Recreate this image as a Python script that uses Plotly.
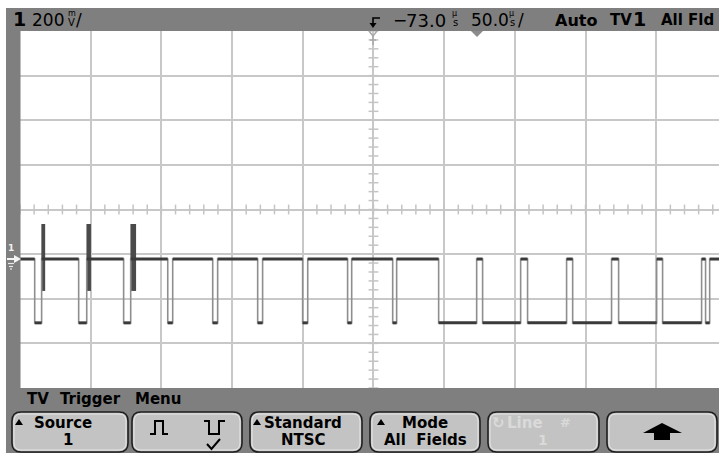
import plotly.graph_objects as go

time_per_div_us = 50.0
delay_us = -73.0
volts_per_div = 0.2
x_range_us = [-323.0, 171.4]          # visible part of the 10-div window
y_range_v = [-0.578, 1.022]           # 8 divisions, ground marker 1.1 div below centre

blank_level_v = 0.0
sync_level_v = -0.286

sync_start_us = [-312.6, -281.5, -249.7, -218.5, -186.7, -154.9, -123.1, -91.3,
                 -59.4, -26.9, 4.2, 36.0, 67.9, 100.4, 131.5, 161.9]
sync_end_us = [-307.7, -275.8, -244.7, -215.0, -183.2, -151.4, -119.5, -88.4,
               -56.6, 0.0, 31.1, 63.6, 95.4, 127.3, 159.1, 164.8]

burst_start_us = [-307.9, -276.0, -244.9]
burst_end_us = [-305.2, -272.8, -240.9]
burst_top_v = 0.157
burst_bottom_v = -0.143

header_channel = "1"
header_scale = "200"
header_delay = "73.0"
header_timebase = "50.0"
menu_title = ["TV", "Trigger", "Menu"]

# ---------------- geometry helpers (screen pixels) ----------------
FW, FH = 719, 453
PLOT_L, PLOT_T, PLOT_R, PLOT_B = 20, 31, 719, 388
ML, MT = PLOT_L, PLOT_T
MR = FW - PLOT_R
MB = FH - PLOT_B
PW = PLOT_R - PLOT_L
PH = PLOT_B - PLOT_T


def px(x):
    return (x - PLOT_L) / PW


def py(y):
    return (PLOT_B - y) / PH


def P(x, y):
    return f"{px(x):.5f},{py(y):.5f}"


def poly(points, close=True):
    s = "M " + " L ".join(P(x, y) for x, y in points)
    return s + (" Z" if close else "")


def rrect(x0, y0, x1, y1, r):
    return (f"M {P(x0 + r, y0)} L {P(x1 - r, y0)} Q {P(x1, y0)} {P(x1, y0 + r)} "
            f"L {P(x1, y1 - r)} Q {P(x1, y1)} {P(x1 - r, y1)} "
            f"L {P(x0 + r, y1)} Q {P(x0, y1)} {P(x0, y1 - r)} "
            f"L {P(x0, y0 + r)} Q {P(x0, y0)} {P(x0 + r, y0)} Z")


shapes = []
annotations = []


def rect(x0, y0, x1, y1, color):
    shapes.append(dict(type="rect", xref="paper", yref="paper", x0=px(x0), x1=px(x1),
                       y0=py(y1), y1=py(y0), fillcolor=color, line=dict(width=0),
                       layer="above"))


def path(d, fill=None, line_color=None, width=0):
    s = dict(type="path", xref="paper", yref="paper", path=d, layer="above")
    if fill:
        s["fillcolor"] = fill
    s["line"] = dict(color=line_color or "rgba(0,0,0,0)", width=width)
    shapes.append(s)


def text(x, y, t, size, color="#000000", bold=False, anchor="left",
         family="DejaVu Sans"):
    annotations.append(dict(xref="paper", yref="paper", x=px(x), y=py(y),
                            text=f"<b>{t}</b>" if bold else t, showarrow=False,
                            xanchor=anchor, yanchor="middle", borderpad=0,
                            font=dict(size=size, color=color, family=family)))


def tri_up(x, y, w=8, h=6):
    path(poly([(x, y + h / 2), (x + w, y + h / 2), (x + w / 2, y - h / 2)]), fill="#000")


# ---------------- waveform built from the edge lists ----------------
wx, wy = [x_range_us[0]], [blank_level_v]
for s, e in zip(sync_start_us, sync_end_us):
    wx += [s, s, e, e]
    wy += [blank_level_v, sync_level_v, sync_level_v, blank_level_v]
wx.append(x_range_us[1])
wy.append(blank_level_v)

hx, hy = [], []
prev = x_range_us[0]
for s, e in zip(sync_start_us, sync_end_us):
    hx += [prev, s, None, s, e, None]
    hy += [blank_level_v, blank_level_v, None, sync_level_v, sync_level_v, None]
    prev = e
hx += [prev, x_range_us[1]]
hy += [blank_level_v, blank_level_v]

centre_t = delay_us
centre_v = (y_range_v[0] + y_range_v[1]) / 2
minor_t = [x_range_us[0] + time_per_div_us / 5 * k for k in range(60)]
minor_t = [t for t in minor_t if t <= x_range_us[1]]
minor_v = [y_range_v[0] + volts_per_div / 5 * k for k in range(41)]

fig = go.Figure()
fig.add_trace(go.Scatter(x=minor_t, y=[centre_v] * len(minor_t), mode="markers",
                         marker=dict(symbol="line-ns", size=7,
                                     line=dict(color="#c4c4c4", width=1.5)),
                         hoverinfo="skip", cliponaxis=True))
fig.add_trace(go.Scatter(x=[centre_t] * len(minor_v), y=minor_v, mode="markers",
                         marker=dict(symbol="line-ew", size=7,
                                     line=dict(color="#c4c4c4", width=1.5)),
                         hoverinfo="skip", cliponaxis=True))
fig.add_trace(go.Scatter(x=wx, y=wy, mode="lines",
                         line=dict(color="#8e8e8e", width=1.6), hoverinfo="skip"))
fig.add_trace(go.Scatter(x=hx, y=hy, mode="lines",
                         line=dict(color="#3a3a3a", width=3), hoverinfo="skip"))
fig.add_trace(go.Bar(x=[(s + e) / 2 for s, e in zip(burst_start_us, burst_end_us)],
                     y=[burst_top_v - burst_bottom_v] * len(burst_start_us),
                     base=[burst_bottom_v] * len(burst_start_us),
                     width=[e - s for s, e in zip(burst_start_us, burst_end_us)],
                     marker=dict(color="#4a4a4a", line=dict(width=0)),
                     hoverinfo="skip"))

# ---------------- screen furniture ----------------
GRAY = "#7f7f7f"
rect(6, 8, FW, 31, GRAY)           # top status bar
rect(6, 31, 20.5, PLOT_B, GRAY)    # left marker column
rect(6, PLOT_B, FW, FH, GRAY)      # softkey menu area

# header
text(12, 19, header_channel, 19, bold=True)
text(31, 20, header_scale, 17)
text(67, 14, "m", 8)
text(67, 22, "V", 10)
text(75, 20, "/", 17)
path(poly([(380, 18), (373, 18), (373, 24)], close=False), line_color="#000", width=1.6)
path(poly([(369.5, 23), (376.5, 23), (373, 28)]), fill="#000")
text(392, 20, "−", 17)
text(405, 20, header_delay, 18)
text(451, 14, "µ", 8)
text(452, 22, "s", 10)
text(470, 20, header_timebase, 17)
text(508, 14, "µ", 8)
text(509, 22, "s", 10)
text(517, 20, "/", 17)
text(554, 20, "Auto", 16, bold=True)
text(609, 20, "TV", 15, bold=True)
text(632, 19, "1", 19, bold=True)
text(660, 20, "All", 15, bold=True)
text(687, 20, "Fld", 15, bold=True)

# trigger / delay markers on the graticule
path(poly([(369, 31), (373, 36), (377, 31)], close=False), line_color="#a8a8a8", width=1.5)
path(poly([(373, 35), (373, 45)], close=False), line_color="#a8a8a8", width=1.5)
path(poly([(370, 40), (376, 40)], close=False), line_color="#a8a8a8", width=1.5)
path(poly([(471, 31), (483, 31), (477, 37)]), fill="#8c8c8c")

# ground marker
text(10.5, 248, "1", 9, color="#f0f0f0", bold=True, anchor="center")
path(poly([(7, 259), (15, 259)], close=False), line_color="#f4f4f4", width=2)
path(poly([(14, 255), (21, 259), (14, 263)]), fill="#f4f4f4")
path(poly([(8, 263.5), (14, 263.5)], close=False), line_color="#e8e8e8", width=1.2)
path(poly([(9, 266.5), (13, 266.5)], close=False), line_color="#e8e8e8", width=1.2)
path(poly([(10, 269), (12, 269)], close=False), line_color="#e8e8e8", width=1.2)

# menu title
text(26, 399, menu_title[0], 15, bold=True)
text(59, 399, menu_title[1], 15, bold=True)
text(134, 399, menu_title[2], 15, bold=True)

# soft keys
buttons = [(12, 128), (132, 242), (250, 362), (370, 480), (488, 599), (607, 717)]
for x0, x1 in buttons:
    path(rrect(x0, 412, x1, 452, 9), fill="#c3c3c3", line_color="#1e1e1e", width=1.6)
    path(rrect(x0 + 2, 414, x1 - 2, 450, 7), line_color="#e6e6e6", width=1)

# Source
tri_up(15, 422)
text(33, 423, "Source", 15, bold=True)
text(68, 440, "1", 15, bold=True, anchor="center")
# polarity
path(poly([(150, 434), (155, 434), (155, 421), (163, 421), (163, 434), (168, 434)], close=False),
     line_color="#000", width=2)
path(poly([(204, 421), (209, 421), (209, 434), (219, 434), (219, 421), (225, 421)], close=False),
     line_color="#000", width=2)
path(poly([(207, 444), (211.5, 449), (220, 439)], close=False), line_color="#000", width=2)
# Standard
tri_up(253, 422)
text(263, 423, "Standard", 15, bold=True)
text(303, 440, "NTSC", 15, bold=True, anchor="center")
# Mode
tri_up(377, 422)
text(425, 423, "Mode", 15, bold=True, anchor="center")
text(425, 440, "All  Fields", 15, bold=True, anchor="center")
# Line # (disabled)
text(491, 423, "↻", 15, color="#dadada", bold=True)
text(506, 423, "Line", 15, color="#dadada", bold=True)
text(559, 422, "#", 13, color="#dadada", bold=True)
text(543, 440, "1", 14, color="#dadada", bold=True, anchor="center")
# up-arrow key
path(poly([(662, 423), (682, 433), (670, 433), (670, 440), (654, 440), (654, 433), (643, 433)]),
     fill="#000")

fig.update_layout(
    width=FW, height=FH, autosize=False,
    margin=dict(l=ML, r=MR, t=MT, b=MB, pad=0),
    paper_bgcolor="#ffffff", plot_bgcolor="#ffffff",
    showlegend=False, barmode="overlay",
    xaxis=dict(range=x_range_us, tick0=x_range_us[0], dtick=time_per_div_us,
               showgrid=True, gridcolor="#c8c8c8", gridwidth=1.5, zeroline=False,
               showticklabels=False, ticks="", showline=False, fixedrange=True),
    yaxis=dict(range=y_range_v, tick0=y_range_v[0], dtick=volts_per_div,
               showgrid=True, gridcolor="#c8c8c8", gridwidth=1.5, zeroline=False,
               showticklabels=False, ticks="", showline=False, fixedrange=True),
    shapes=shapes, annotations=annotations,
)

fig.write_html("out.html", config={"displayModeBar": False},
               post_script="document.body.style.margin='0';"
                           "document.body.style.overflow='hidden';")
